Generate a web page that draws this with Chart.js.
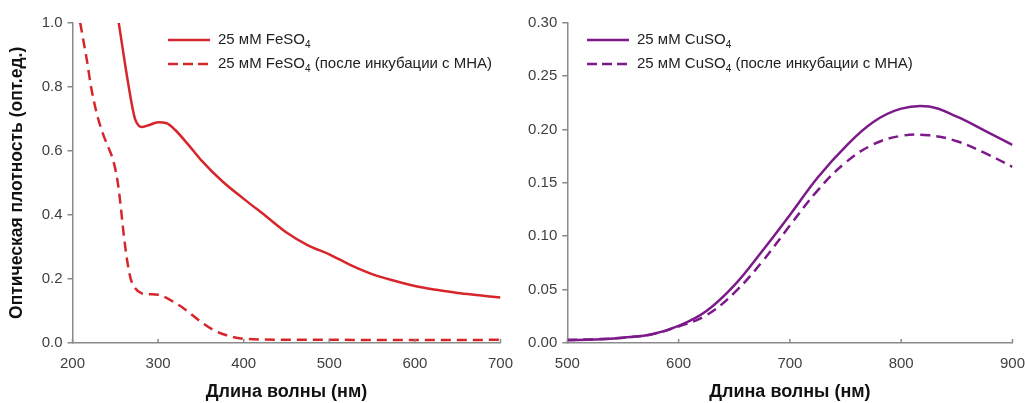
<!DOCTYPE html>
<html>
<head>
<meta charset="utf-8">
<script src="https://cdn.jsdelivr.net/npm/chart.js@4.4.1/dist/chart.umd.min.js"></script>
<style>
    html, body { margin: 0; padding: 0; background: #ffffff; }
    body { width: 1025px; height: 403px; position: relative; overflow: hidden; }
    .panel { position: absolute; top: 0; height: 403px; }
    /* panels overlap a bit: Chart.js keeps room for the last x label on the right */
    #leftPanel { left: 0; width: 525px; }
    #rightPanel { left: 520px; width: 517px; }
</style>
</head>
<body>
<div class="panel" id="leftPanel"><canvas id="chartFe"></canvas></div>
<div class="panel" id="rightPanel"><canvas id="chartCu"></canvas></div>
<script>
// Spectra: wavelength (nm) and optical density
const feWavelengths = [254, 258, 262, 266, 270, 273, 277, 281, 289, 300, 310, 320, 335, 350, 375, 400, 425, 450, 475, 500, 525, 550, 575, 600, 625, 650, 675, 700];
const feValues = [1.0, 0.93, 0.86, 0.795, 0.735, 0.70, 0.68, 0.674, 0.68, 0.689, 0.686, 0.665, 0.62, 0.572, 0.505, 0.45, 0.398, 0.345, 0.305, 0.277, 0.243, 0.215, 0.195, 0.178, 0.166, 0.156, 0.149, 0.142];

const feMhaWavelengths = [209, 213, 217, 221, 225, 230, 236, 242, 247, 251, 254, 257, 260, 264, 268, 273, 281, 290, 300, 308, 315, 330, 350, 365, 380, 395, 420, 500, 600, 700];
const feMhaValues = [1.0, 0.94, 0.88, 0.81, 0.755, 0.70, 0.65, 0.61, 0.575, 0.53, 0.48, 0.41, 0.335, 0.255, 0.20, 0.172, 0.155, 0.152, 0.151, 0.143, 0.133, 0.108, 0.066, 0.04, 0.024, 0.015, 0.011, 0.010, 0.009, 0.010];

const cuWavelengths = [500, 525, 550, 575, 600, 625, 650, 675, 700, 725, 750, 775, 800, 825, 850, 875, 900];
const cuValues = [0.0025, 0.0033, 0.005, 0.008, 0.016, 0.030, 0.054, 0.086, 0.120, 0.155, 0.184, 0.207, 0.2195, 0.2215, 0.212, 0.199, 0.1855];

const cuMhaWavelengths = [500, 525, 550, 575, 600, 625, 650, 675, 700, 725, 750, 775, 800, 825, 850, 875, 900];
const cuMhaValues = [0.003, 0.0035, 0.005, 0.008, 0.0155, 0.026, 0.047, 0.076, 0.110, 0.143, 0.169, 0.186, 0.194, 0.1945, 0.189, 0.178, 0.165];

const feLabels = ['25 мМ FeSO', '25 мМ FeSO'];
const cuLabels = ['25 мМ CuSO', '25 мМ CuSO'];
const labelTail = ['', ' (после инкубации с МНА)'];

const RED = '#d7262b';
const PURPLE = '#7d1a8a';
const AXIS_GRAY = '#8a8a8a';
const TICK_TEXT = '#3f3f3f';
const FONT = "'Liberation Sans', Arial, sans-serif";

function toPoints(xs, ys) {
    return xs.map((x, i) => ({ x: x, y: ys[i] }));
}

// Legend drawn at a fixed spot inside the plot, with a real subscript 4
const legendPlugin = {
    id: 'subLegend',
    afterDraw(chart, args, opts) {
        const ctx = chart.ctx;
        ctx.save();
        opts.items.forEach((item, i) => {
            const y = opts.y + i * opts.rowGap;
            ctx.strokeStyle = item.color;
            ctx.lineWidth = 2.5;
            ctx.setLineDash(item.dash);
            ctx.beginPath();
            ctx.moveTo(opts.x, y);
            ctx.lineTo(opts.x + 42, y);
            ctx.stroke();
            ctx.setLineDash([]);

            ctx.fillStyle = '#222222';
            ctx.textBaseline = 'middle';
            ctx.font = '15px ' + FONT;
            let tx = opts.x + 50;
            ctx.fillText(item.text, tx, y);
            tx += ctx.measureText(item.text).width;
            ctx.font = '10px ' + FONT;
            ctx.fillText('4', tx, y + 5);
            tx += ctx.measureText('4').width;
            if (item.tail) {
                ctx.font = '15px ' + FONT;
                ctx.fillText(item.tail, tx, y);
            }
        });
        ctx.restore();
    }
};

// Short tick marks on the x axis pointing into the plot
const innerTicksPlugin = {
    id: 'innerTicks',
    afterDraw(chart) {
        const xs = chart.scales.x;
        const ctx = chart.ctx;
        ctx.save();
        ctx.strokeStyle = AXIS_GRAY;
        ctx.lineWidth = 1.5;
        xs.ticks.forEach(t => {
            const px = xs.getPixelForValue(t.value);
            ctx.beginPath();
            ctx.moveTo(px, chart.chartArea.bottom);
            ctx.lineTo(px, chart.chartArea.bottom - 4);
            ctx.stroke();
        });
        ctx.restore();
    }
};

function buildChart(canvasId, cfg) {
    const lineStyle = cfg.smooth === 'monotone'
        ? { cubicInterpolationMode: 'monotone' }
        : { tension: 0.4 };
    return new Chart(document.getElementById(canvasId), {
        type: 'line',
        data: {
            datasets: [
                Object.assign({
                    data: toPoints(cfg.xs1, cfg.ys1),
                    borderColor: cfg.color,
                    borderWidth: 2.5,
                    pointRadius: 0
                }, lineStyle),
                Object.assign({
                    data: toPoints(cfg.xs2, cfg.ys2),
                    borderColor: cfg.color,
                    borderWidth: 2.5,
                    borderDash: [10, 6],
                    pointRadius: 0
                }, lineStyle)
            ]
        },
        options: {
            responsive: true,
            maintainAspectRatio: false,
            animation: false,
            layout: { padding: { top: 22.7, right: 0, bottom: 0, left: 0 } },
            plugins: {
                legend: { display: false },
                tooltip: { enabled: false },
                subLegend: {
                    x: cfg.legendX,
                    y: 40,
                    rowGap: 24,
                    items: [
                        { text: cfg.labels[0], tail: labelTail[0], color: cfg.color, dash: [] },
                        { text: cfg.labels[1], tail: labelTail[1], color: cfg.color, dash: [10, 5] }
                    ]
                }
            },
            scales: {
                x: {
                    type: 'linear',
                    min: cfg.xMin,
                    max: cfg.xMax,
                    afterFit(scale) { scale.height = 60; },
                    ticks: { stepSize: 100, color: TICK_TEXT, font: { family: FONT, size: 15 }, padding: 12 },
                    grid: { display: false, drawTicks: false },
                    border: { display: true, color: AXIS_GRAY, width: 1.5 },
                    title: {
                        display: true,
                        text: 'Длина волны (нм)',
                        color: '#111111',
                        font: { family: FONT, size: 18, weight: 'bold' },
                        padding: { top: 0, bottom: 0 }
                    }
                },
                y: {
                    min: 0,
                    max: cfg.yMax,
                    afterFit(scale) { scale.width = cfg.yWidth; },
                    ticks: {
                        stepSize: cfg.yStep,
                        color: TICK_TEXT,
                        font: { family: FONT, size: 15 },
                        padding: 5,
                        callback: v => v.toFixed(cfg.decimals)
                    },
                    grid: { drawOnChartArea: false, drawTicks: true, tickLength: 5, color: AXIS_GRAY, lineWidth: 1.5 },
                    border: { display: true, color: AXIS_GRAY, width: 1.5 },
                    title: {
                        display: cfg.yTitle !== '',
                        text: cfg.yTitle,
                        color: '#111111',
                        font: { family: FONT, size: 17.5, weight: 'bold' },
                        padding: { top: 7, bottom: 0 }
                    }
                }
            }
        },
        plugins: [legendPlugin, innerTicksPlugin]
    });
}

const feChart = buildChart('chartFe', {
    xs1: feWavelengths, ys1: feValues,
    xs2: feMhaWavelengths, ys2: feMhaValues,
    color: RED,
    labels: feLabels,
    smooth: 'monotone',
    xMin: 200, xMax: 700,
    yMax: 1.0, yStep: 0.2, decimals: 1,
    yWidth: 72.5,
    legendX: 168,
    yTitle: 'Оптическая плотность (опт.ед.)'
});

const cuChart = buildChart('chartCu', {
    xs1: cuWavelengths, ys1: cuValues,
    xs2: cuMhaWavelengths, ys2: cuMhaValues,
    color: PURPLE,
    labels: cuLabels,
    smooth: 'bezier',
    xMin: 500, xMax: 900,
    yMax: 0.30, yStep: 0.05, decimals: 2,
    yWidth: 47.3,
    legendX: 67,
    yTitle: ''
});
</script>
</body>
</html>
